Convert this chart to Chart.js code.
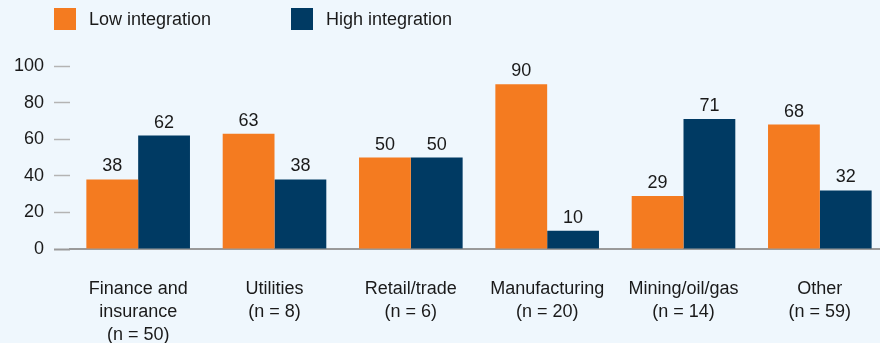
<!DOCTYPE html>
<html>
<head>
<meta charset="utf-8">
<script src="https://cdn.jsdelivr.net/npm/chart.js@4"></script>
<style>
  html, body { margin: 0; padding: 0; background: #eff7fd; overflow: hidden; }
  #wrap { position: relative; width: 888px; height: 343px; }
  #legend { position: absolute; top: 8px; left: 54px; display: flex; font: 18px "Liberation Sans", Arial, sans-serif; color: #1a1a1a; }
  .item { display: flex; align-items: center; width: 237px; }
  .swatch { width: 22px; height: 22px; margin-right: 13px; }
</style>
</head>
<body>
<div id="wrap">
  <div id="legend"></div>
  <canvas id="chart" width="888" height="343"></canvas>
</div>
<script>
// industries with sample sizes, one line per array entry
const categories = [
    ['Finance and', 'insurance', '(n = 50)'],
    ['Utilities', '(n = 8)'],
    ['Retail/trade', '(n = 6)'],
    ['Manufacturing', '(n = 20)'],
    ['Mining/oil/gas', '(n = 14)'],
    ['Other', '(n = 59)']
];
const lowIntegration = [38, 63, 50, 90, 29, 68];
const highIntegration = [62, 38, 50, 10, 71, 32];
const yTicks = [0, 20, 40, 60, 80, 100];

const ORANGE = '#f47b20';
const NAVY = '#003a63';
const FONT = '"Liberation Sans", Arial, sans-serif';

const series = [
    { label: 'Low integration', data: lowIntegration, color: ORANGE },
    { label: 'High integration', data: highIntegration, color: NAVY }
];

// legend above the plot
const legend = document.getElementById('legend');
series.forEach(s => {
    const item = document.createElement('div');
    item.className = 'item';
    item.innerHTML = '<span class="swatch" style="background:' + s.color + '"></span><span>' + s.label + '</span>';
    legend.appendChild(item);
});

// value printed above each bar
const barValues = {
    id: 'barValues',
    afterDatasetsDraw(chart) {
        const ctx = chart.ctx;
        ctx.save();
        ctx.font = '18px ' + FONT;
        ctx.fillStyle = '#1a1a1a';
        ctx.textAlign = 'center';
        ctx.textBaseline = 'alphabetic';
        chart.data.datasets.forEach((ds, i) => {
            chart.getDatasetMeta(i).data.forEach((bar, j) => {
                ctx.fillText(String(ds.data[j]), bar.x, bar.y - 8);
            });
        });
        ctx.restore();
    }
};

new Chart(document.getElementById('chart'), {
    type: 'bar',
    data: {
        labels: categories,
        datasets: series.map(s => ({
            label: s.label,
            data: s.data,
            backgroundColor: s.color,
            borderWidth: 0,
            categoryPercentage: 0.76,
            barPercentage: 1.0
        }))
    },
    options: {
        responsive: false,
        animation: false,
        layout: { padding: { top: 66, left: 0, right: 0, bottom: 0 } },
        plugins: {
            legend: { display: false },
            tooltip: { enabled: false }
        },
        scales: {
            x: {
                grid: { display: false },
                border: { display: true, color: '#9a9a9a', width: 2 },
                ticks: {
                    color: '#1a1a1a',
                    padding: 20,
                    maxRotation: 0,
                    autoSkip: false,
                    font: { family: FONT, size: 18, lineHeight: 1.3 }
                },
                afterFit(scale) { scale.height = 94; }
            },
            y: {
                min: 0,
                max: 100,
                afterBuildTicks(scale) { scale.ticks = yTicks.map(v => ({ value: v })); },
                grid: {
                    drawOnChartArea: false,
                    drawTicks: true,
                    tickLength: 16,
                    tickColor: c => c.tick && c.tick.value === 0 ? '#9a9a9a' : '#b4b4b4',
                    tickWidth: c => c.tick && c.tick.value === 0 ? 2 : 1.5
                },
                border: { display: false },
                ticks: {
                    color: '#1a1a1a',
                    padding: 10,
                    font: { family: FONT, size: 18 }
                },
                afterFit(scale) { scale.width = 70; }
            }
        }
    },
    plugins: [barValues]
});
</script>
</body>
</html>
